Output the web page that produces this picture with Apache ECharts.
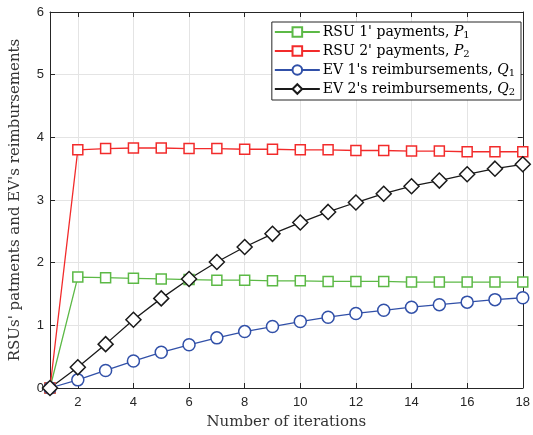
<!DOCTYPE html>
<html>
<head>
<meta charset="utf-8">
<script src="https://cdn.jsdelivr.net/npm/echarts@6/dist/echarts.min.js"></script>
<style>
  html, body { margin: 0; padding: 0; background: #fff; }
  #chart { width: 533px; height: 435px; }
</style>
</head>
<body>
<div id="chart"></div>
<script>
const iterations = [1, 2, 3, 4, 5, 6, 7, 8, 9, 10, 11, 12, 13, 14, 15, 16, 17, 18];
const p1 = [0, 1.77, 1.76, 1.75, 1.74, 1.73, 1.72, 1.72, 1.71, 1.71, 1.70, 1.70, 1.70, 1.69, 1.69, 1.69, 1.69, 1.69];
const p2 = [0, 3.80, 3.82, 3.83, 3.83, 3.82, 3.82, 3.81, 3.81, 3.80, 3.80, 3.79, 3.79, 3.78, 3.78, 3.77, 3.77, 3.77];
const q1 = [0, 0.13, 0.28, 0.43, 0.57, 0.69, 0.80, 0.90, 0.98, 1.06, 1.13, 1.19, 1.24, 1.29, 1.33, 1.37, 1.41, 1.44];
const q2 = [0, 0.33, 0.70, 1.09, 1.43, 1.74, 2.01, 2.25, 2.46, 2.64, 2.81, 2.96, 3.10, 3.22, 3.31, 3.41, 3.50, 3.57];
const xTicks = [2, 4, 6, 8, 10, 12, 14, 16, 18];
const yTicks = [0, 1, 2, 3, 4, 5, 6];

const chart = echarts.init(document.getElementById('chart'));

const axisColor = '#262626';
const serif = '"DejaVu Serif", "Liberation Serif", serif';
const sans = '"Liberation Sans", Arial, sans-serif';

function pairs(ys) {
  return iterations.map((x, i) => [x, ys[i]]);
}

function lineSeries(name, ys, color, symbol, size) {
  return {
    name: name,
    type: 'line',
    data: pairs(ys),
    symbol: symbol,
    symbolSize: size,
    showAllSymbol: true,
    lineStyle: { color: color, width: 1.3 },
    itemStyle: { color: '#fff', borderColor: color, borderWidth: 1.5 },
    emphasis: { disabled: true },
    animation: false,
    z: 3
  };
}

const rich = {
  t: { fontFamily: serif, fontSize: 14, color: '#000' },
  i: { fontFamily: serif, fontSize: 14, fontStyle: 'italic', color: '#000' },
  s: { fontFamily: serif, fontSize: 10, color: '#000', verticalAlign: 'bottom', padding: [6, 0, 0, 0] }
};
const legendText = {
  'RSU 1': "{t|RSU 1' payments, }{i|P}{s|1}",
  'RSU 2': "{t|RSU 2' payments, }{i|P}{s|2}",
  'EV 1': "{t|EV 1's reimbursements, }{i|Q}{s|1}",
  'EV 2': "{t|EV 2's reimbursements, }{i|Q}{s|2}"
};

const option = {
  animation: false,
  backgroundColor: '#fff',
  grid: { left: 49, right: 5, top: 12, bottom: 46 },
  legend: {
    orient: 'vertical',
    right: 12,
    top: 22,
    padding: [3, 6, 3, 2],
    itemGap: 4,
    itemWidth: 45,
    itemHeight: 12,
    backgroundColor: '#fff',
    borderColor: axisColor,
    borderWidth: 1,
    borderRadius: 0,
    data: ['RSU 1', 'RSU 2', 'EV 1', 'EV 2'],
    formatter: n => legendText[n],
    textStyle: { rich: rich, padding: [0, 0, 0, -2] }
  },
  xAxis: [{
    type: 'value',
    min: 1,
    max: 18,
    name: 'Number of iterations',
    nameLocation: 'middle',
    nameGap: 27,
    nameTextStyle: { fontFamily: serif, fontSize: 15, color: '#333' },
    axisLine: { show: true, onZero: false, lineStyle: { color: axisColor, width: 1 } },
    axisTick: { show: true, inside: true, length: 5, customValues: xTicks, lineStyle: { color: axisColor } },
    axisLabel: { customValues: xTicks, fontFamily: sans, fontSize: 13, color: axisColor, margin: 8 },
    splitLine: { show: true, lineStyle: { color: '#e4e4e4', width: 1 } }
  }, {
    type: 'value',
    position: 'top',
    min: 1,
    max: 18,
    axisLine: { show: true, onZero: false, lineStyle: { color: axisColor, width: 1 } },
    axisTick: { show: true, inside: true, length: 5, customValues: xTicks, lineStyle: { color: axisColor } },
    axisLabel: { show: false },
    splitLine: { show: false }
  }],
  yAxis: [{
    type: 'value',
    min: 0,
    max: 6,
    interval: 1,
    name: "RSUs' patments and EV's reimbursements",
    nameLocation: 'middle',
    nameGap: 27,
    nameTextStyle: { fontFamily: serif, fontSize: 15, color: '#333' },
    axisLine: { show: true, onZero: false, lineStyle: { color: axisColor, width: 1 } },
    axisTick: { show: true, inside: true, length: 5, lineStyle: { color: axisColor } },
    axisLabel: { fontFamily: sans, fontSize: 13, color: axisColor, margin: 6,
      formatter: v => yTicks.includes(v) ? String(v) : '' },
    splitLine: { show: true, lineStyle: { color: '#e4e4e4', width: 1 } }
  }, {
    type: 'value',
    position: 'right',
    min: 0,
    max: 6,
    interval: 1,
    axisLine: { show: true, onZero: false, lineStyle: { color: axisColor, width: 1 } },
    axisTick: { show: true, inside: true, length: 5, lineStyle: { color: axisColor } },
    axisLabel: { show: false },
    splitLine: { show: false }
  }],
  series: [
    lineSeries('RSU 1', p1, '#5cb946', 'rect', 10),
    lineSeries('RSU 2', p2, '#f22b2b', 'rect', 10),
    lineSeries('EV 1', q1, '#3150a8', 'circle', 12),
    lineSeries('EV 2', q2, '#1a1a1a', 'diamond', 15)
  ]
};

chart.setOption(option);
</script>
</body>
</html>
